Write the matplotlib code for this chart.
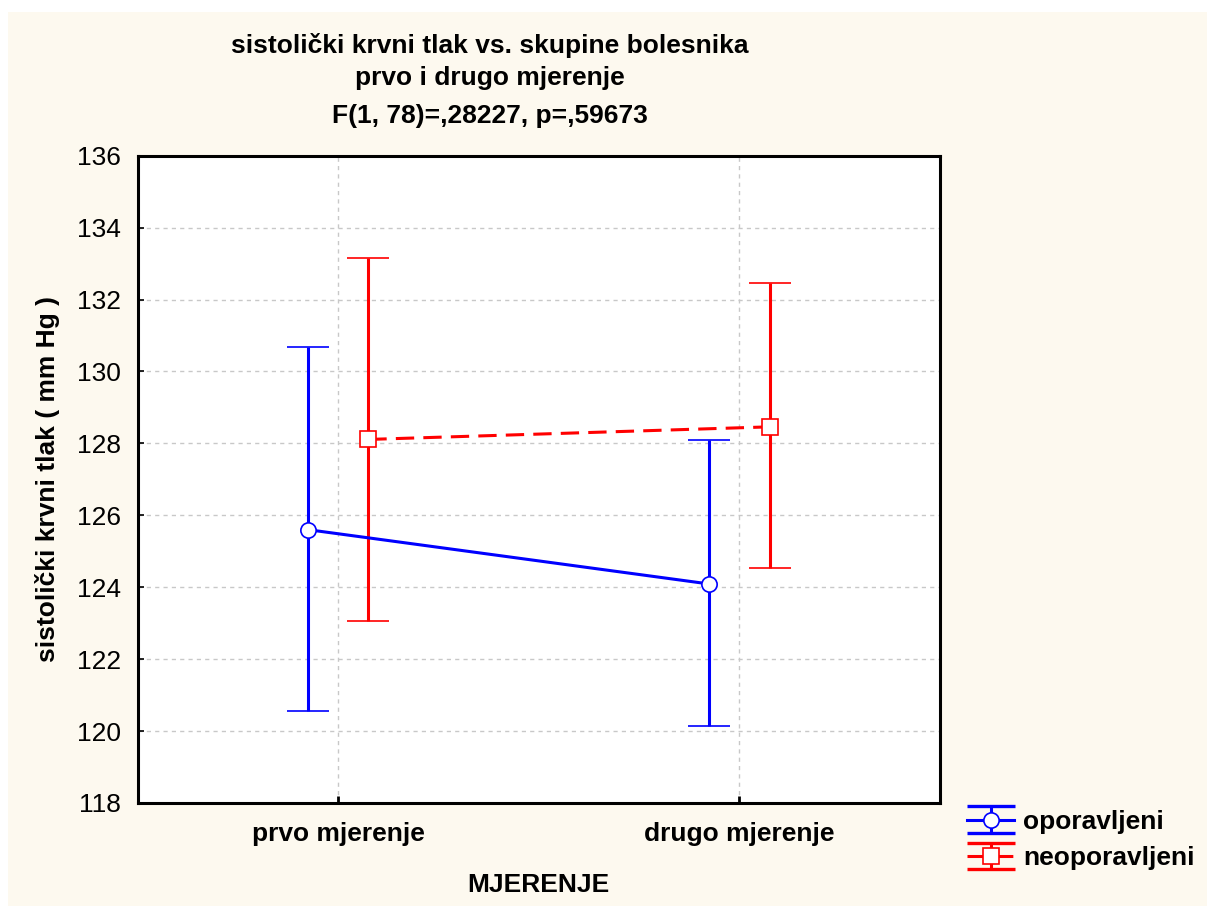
import numpy as np
import matplotlib
matplotlib.use("Agg")
import matplotlib.pyplot as plt
from matplotlib.patches import Rectangle
from matplotlib.lines import Line2D
from matplotlib.legend_handler import HandlerErrorbar
from matplotlib.container import ErrorbarContainer

plt.rcParams['font.family'] = ['Liberation Sans', 'DejaVu Sans']

# data
categories = ['prvo mjerenje', 'drugo mjerenje']
groups = ['oporavljeni', 'neoporavljeni']
means_op = [125.60, 124.09]
low_op = [120.56, 120.14]
high_op = [130.67, 128.09]
means_neop = [128.11, 128.46]
low_neop = [123.06, 124.53]
high_neop = [133.16, 132.46]

title_lines = ['sistolički krvni tlak vs. skupine bolesnika',
               'prvo i drugo mjerenje',
               'F(1, 78)=,28227, p=,59673']
title_y = [45, 78, 116]   # pixel rows of the title lines

cream = '#fdf9ef'


class WideCaps(HandlerErrorbar):
    # statistica draws the legend caps as wide as the whole handle
    def create_artists(self, *args, **kwargs):
        arts = super().create_artists(*args, **kwargs)
        for a in arts:
            if isinstance(a, Line2D) and a.get_marker() == '_':
                a.set_markersize(34)
                a.set_markeredgewidth(2.4)
        return arts


fig = plt.figure(figsize=(12.07, 9.06), dpi=100)
fig.patch.set_facecolor('white')
fig.patches.append(Rectangle((8 / 1207, 0), 1, (906 - 12) / 906,
                             transform=fig.transFigure, facecolor=cream,
                             edgecolor='none', zorder=-10))

ax = fig.add_axes([137.7 / 1207, 103 / 906, 802.3 / 1207, 647.3 / 906])
ax.set_facecolor('white')

x = np.arange(len(categories))
shift = 0.075


def err(m, lo, hi):
    m, lo, hi = map(np.asarray, (m, lo, hi))
    return [m - lo, hi - m]


h1 = ax.errorbar(x - shift, means_op, yerr=err(means_op, low_op, high_op),
                 color='#0000ff', lw=2.2, capsize=15, capthick=2.2,
                 marker='o', ms=11, mfc='white', mec='#0000ff', mew=1.2,
                 label=groups[0], zorder=3)
h2 = ax.errorbar(x + shift, means_neop,
                 yerr=err(means_neop, low_neop, high_neop),
                 color='#ff0000', lw=2.2, ls=(0, (6, 3)), capsize=15,
                 capthick=2.2, marker='s', ms=11, mfc='white',
                 mec='#ff0000', mew=1.2, label=groups[1], zorder=3)
h2[2][0].set_linestyle('solid')

ax.set_xlim(-0.5, 1.5)
ax.set_ylim(118, 136)
ax.set_yticks(np.arange(118, 137, 2))
ax.set_xticks(x)
ax.set_xticklabels(categories, fontsize=19, fontweight='bold')
ax.tick_params(axis='y', labelsize=19, direction='in', length=4, width=1.2,
               pad=12)
ax.tick_params(axis='x', direction='in', length=5, width=2, pad=14)
ax.grid(True, color='#c8c8c8', ls=(0, (3, 3)), lw=1)
ax.set_axisbelow(True)
for s in ax.spines.values():
    s.set_linewidth(2.2)

ax.set_xlabel('MJERENJE', fontsize=19, fontweight='bold', labelpad=19)
ax.set_ylabel('sistolički krvni tlak ( mm Hg )', fontsize=19,
              fontweight='bold', labelpad=12)

for line, yy in zip(title_lines, title_y):
    fig.text(490 / 1207, 1 - yy / 906, line, ha='center',
             va='center', fontsize=19, fontweight='bold')

leg = fig.legend(handles=[h1, h2], loc='center left',
                 bbox_to_anchor=(943 / 1207, 1 - 840 / 906), frameon=False,
                 prop={'weight': 'bold', 'size': 19},
                 handlelength=1.8, handletextpad=0.35, labelspacing=0.47,
                 handler_map={ErrorbarContainer: WideCaps(yerr_size=0.5)})

fig.savefig('out.png', dpi=100, facecolor=fig.get_facecolor())
